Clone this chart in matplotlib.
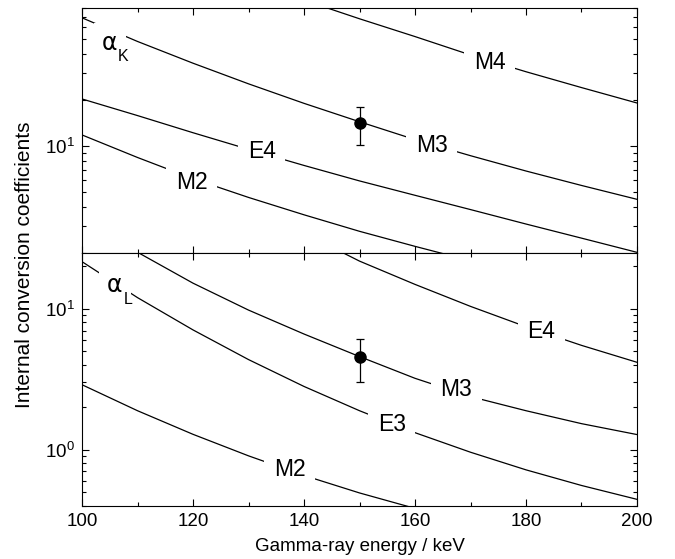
import numpy as np
import matplotlib
matplotlib.use("Agg")
import matplotlib.pyplot as plt
from matplotlib.ticker import NullFormatter, LogLocator

plt.rcParams['font.family'] = ['Liberation Sans', 'DejaVu Sans']
plt.rcParams['mathtext.fontset'] = 'custom'
plt.rcParams['mathtext.rm'] = 'Liberation Sans'
plt.rcParams['mathtext.it'] = 'Liberation Sans:italic'

# gamma-ray energy grid (keV)
energy = [100, 110, 120, 130, 140, 150, 160, 170, 180, 190, 200]

# K-shell coefficients
k_m4_e = [140, 150, 160, 170, 180, 190, 200]
k_m4 = [90, 68, 52, 39.4, 30.6, 24.1, 19.1]
k_m3 = [69.0, 48.3, 34.8, 25.5, 19.0, 14.4, 11.0, 8.63, 6.85, 5.51, 4.47]
k_e4 = [20.3, 15.8, 12.2, 9.5, 7.45, 5.9, 4.75, 3.83, 3.08, 2.49, 2.01]
k_m2_e = [100, 110, 120, 130, 140, 150, 160, 170]
k_m2 = [11.8, 8.4, 6.1, 4.6, 3.54, 2.76, 2.2, 1.77]

# L-shell coefficients
l_e4_e = [147, 150, 160, 170, 180, 190, 200]
l_e4 = [25.0, 21.8, 14.9, 10.4, 7.46, 5.50, 4.17]
l_m3_e = [110, 120, 130, 140, 150, 160, 170, 180, 190, 200]
l_m3 = [25.2, 15.2, 9.79, 6.62, 4.58, 3.21, 2.38, 1.89, 1.53, 1.28]
l_e3 = [21.6, 12.0, 7.08, 4.36, 2.81, 1.89, 1.32, 0.959, 0.719, 0.557, 0.444]
l_m2_e = [100, 110, 120, 130, 140, 150, 160]
l_m2 = [2.89, 1.89, 1.285, 0.904, 0.656, 0.493, 0.383]

# measured points
meas_e = [150]
meas_k = [14.1]
meas_k_err = [4.0]
meas_l = [4.56]
meas_l_err = [[1.52], [1.55]]

fig = plt.figure(figsize=(6.75, 5.59), dpi=100)
ax1 = fig.add_axes([0.1215, 0.548, 0.8222, 0.4377])
ax2 = fig.add_axes([0.1215, 0.0953, 0.8222, 0.4526], sharex=ax1)

white = dict(fc='white', ec='none', pad=7)
lab = dict(fontsize=16.5, ha='center', va='center', bbox=white)
line = dict(color='black', lw=0.9)
pt = dict(fmt='o', color='black', ms=8, capsize=3, elinewidth=0.9,
          capthick=0.9, zorder=5)


def shell_label(ax, x, y, sub, dx, dy):
    # greek alpha with the shell letter set as a subscript beside it
    ax.text(x, y, "α", fontsize=17, family='DejaVu Sans', ha='center',
            va='center', bbox=dict(fc='white', ec='none', pad=6))
    ax.annotate(sub, xy=(x, y), xytext=(dx, dy), textcoords='offset points',
                fontsize=11.5, ha='center', va='center')


# top panel: alpha_K
ax1.plot(k_m4_e, k_m4, **line)
ax1.plot(energy, k_m3, **line)
ax1.plot(energy, k_e4, **line)
ax1.plot(k_m2_e, k_m2, **line)
ax1.errorbar(meas_e, meas_k, yerr=meas_k_err, **pt)
ax1.text(173.5, 35.4, "M4", **lab)
ax1.text(163.0, 10.0, "M3", **lab)
ax1.text(132.4, 9.18, "E4", **lab)
ax1.text(119.8, 5.76, "M2", **lab)
shell_label(ax1, 105.0, 47.1, "K", 9.4, -9.4)
ax1.set_yscale('log')
ax1.set_ylim(2, 80)

# bottom panel: alpha_L
ax2.plot(l_e4_e, l_e4, **line)
ax2.plot(l_m3_e, l_m3, **line)
ax2.plot(energy, l_e3, **line)
ax2.plot(l_m2_e, l_m2, **line)
ax2.errorbar(meas_e, meas_l, yerr=meas_l_err, **pt)
ax2.text(182.8, 6.95, "E4", **lab)
ax2.text(167.4, 2.69, "M3", **lab)
ax2.text(155.8, 1.52, "E3", **lab)
ax2.text(137.4, 0.726, "M2", **lab)
shell_label(ax2, 105.9, 14.8, "L", 9.6, -10.8)
ax2.set_yscale('log')
ax2.set_ylim(0.4, 25)

ax2.set_xlim(100, 200)
ax2.set_xticks([100, 120, 140, 160, 180, 200])
ax2.set_xticks(np.arange(100, 201, 10), minor=True)

for ax in (ax1, ax2):
    ax.yaxis.set_minor_locator(LogLocator(subs=np.arange(2, 10)))
    ax.yaxis.set_minor_formatter(NullFormatter())
    ax.tick_params(which='both', direction='in', top=True, right=True,
                   labelsize=13.5, width=0.8)
    ax.tick_params(which='major', length=5, pad=5)
    ax.tick_params(which='minor', length=3)
    for s in ax.spines.values():
        s.set_linewidth(0.8)
ax1.tick_params(labelbottom=False)

ax2.set_xlabel("Gamma-ray energy / keV", fontsize=13.5, labelpad=6)
fig.text(0.037, 0.526, "Internal conversion coefficients", rotation=90,
         ha='center', va='center', fontsize=15)

fig.savefig("out.png", dpi=100)
